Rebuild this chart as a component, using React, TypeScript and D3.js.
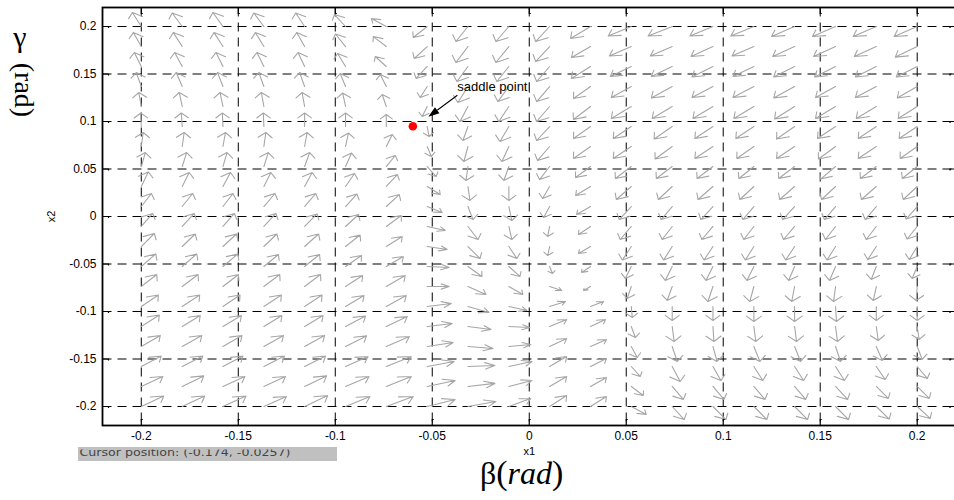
import React from 'react';
import * as d3 from 'd3';

// Axis ticks and labels
const X_TICKS = [-0.2, -0.15, -0.1, -0.05, 0, 0.05, 0.1, 0.15, 0.2];
const X_TICK_LABELS = ['-0.2', '-0.15', '-0.1', '-0.05', '0', '0.05', '0.1', '0.15', '0.2'];
const Y_TICKS = [-0.2, -0.15, -0.1, -0.05, 0, 0.05, 0.1, 0.15, 0.2];
const Y_TICK_LABELS = ['-0.2', '-0.15', '-0.1', '-0.05', '0', '0.05', '0.1', '0.15', '0.2'];

// Quiver sample grid: beta (x1) columns and gamma (x2) rows, top row first
const GRID_X1 = [-0.2, -0.1789, -0.1579, -0.1368, -0.1158, -0.0947, -0.0737, -0.0526, -0.0316, -0.0105,
  0.0105, 0.0316, 0.0526, 0.0737, 0.0947, 0.1158, 0.1368, 0.1579, 0.1789, 0.2];
const GRID_X2 = [0.2, 0.1789, 0.1579, 0.1368, 0.1158, 0.0947, 0.0737, 0.0526, 0.0316, 0.0105,
  -0.0105, -0.0316, -0.0526, -0.0737, -0.0947, -0.1158, -0.1368, -0.1579, -0.1789, -0.2];

// Scaled arrow components in mrad: U along x1, V along x2 (one row per GRID_X2 entry)
const U_MRAD = [
  [-4.6, -5.2, -5.2, -5.2, -4.6, -5.7, -7.7, -7.2, -6.2, -6.7, -7.2, -10.3, -11.9, -12.4, -11.9, -11.9, -11.9, -11.9, -11.9, -11.9],
  [-4.1, -4.6, -4.6, -4.4, -4.1, -5.2, -6.7, -6.7, -6.2, -6.7, -7.2, -9.8, -11.3, -11.3, -11.3, -11.3, -11.3, -11.3, -11.3, -11.3],
  [-3.6, -3.9, -3.6, -3.6, -3.4, -4.1, -5.7, -5.7, -5.7, -6.2, -6.7, -9.8, -10.8, -10.8, -10.8, -10.8, -10.8, -10.8, -10.8, -10.8],
  [-2.6, -3.1, -2.8, -2.6, -2.6, -2.8, -3.1, -3.6, -5.2, -5.7, -6.7, -8.8, -10.3, -10.8, -10.8, -10.8, -10.8, -10.3, -10.8, -10.3],
  [-1.3, -1.5, -1.5, -1.3, -1.3, -1.5, -2.1, -2.6, -4.1, -5.2, -6.7, -8.8, -10.3, -10.3, -10.3, -10.3, -10.3, -10.3, -10.3, -9.8],
  [-0.3, -0.5, -0.3, -0.3, 0, 0, 0, 1.0, -2.6, -4.6, -6.7, -8.8, -9.3, -9.3, -9.3, -9.3, -9.3, -9.3, -9.3, -9.3],
  [1.0, 1.0, 1.3, 1.0, 1.3, 1.5, 3.1, 2.1, -2.1, -3.6, -6.2, -8.8, -9.3, -8.8, -9.3, -8.8, -9.3, -8.8, -9.3, -8.8],
  [2.1, 2.3, 2.1, 2.3, 2.6, 3.1, 4.6, 4.6, -1.0, -2.6, -5.2, -7.7, -8.2, -8.2, -8.2, -7.7, -8.2, -7.7, -8.2, -7.7],
  [3.6, 3.6, 3.9, 3.6, 3.9, 4.6, 5.7, 6.7, 1.0, 0, -3.6, -7.7, -7.7, -7.2, -7.7, -7.2, -7.7, -7.2, -7.7, -7.2],
  [5.2, 5.4, 5.2, 5.7, 5.7, 5.9, 6.7, 7.7, 2.6, 1.5, -3.1, -7.2, -6.2, -5.7, -6.2, -5.7, -6.2, -5.7, -5.7, -5.7],
  [5.9, 6.2, 5.9, 6.2, 6.4, 6.7, 7.7, 9.3, 5.2, 1.5, -1.0, -6.2, -5.7, -5.2, -5.7, -5.2, -5.7, -5.2, -5.2, -5.2],
  [6.7, 6.7, 7.0, 6.7, 7.2, 7.5, 8.2, 10.3, 6.2, 4.1, -1.0, -6.2, -4.6, -4.4, -4.6, -4.4, -4.6, -4.4, -4.4, -4.1],
  [7.5, 7.5, 7.7, 7.5, 7.7, 8.2, 8.8, 11.3, 7.2, 5.7, 1.5, -4.6, -3.1, -3.6, -3.6, -3.6, -3.1, -3.1, -2.6, -2.6],
  [8.0, 8.2, 8.0, 8.2, 8.2, 8.8, 9.8, 11.3, 9.3, 7.2, 6.2, -3.6, -2.1, -2.6, -2.6, -2.1, -1.5, -1.0, -1.5, -0.5],
  [8.8, 9.0, 8.8, 9.0, 9.0, 9.5, 10.3, 12.4, 10.8, 9.3, 8.2, 6.7, 0.5, 0, 0, 0, 0, 0.5, 0, 0],
  [9.3, 9.3, 9.5, 9.3, 9.5, 10.3, 10.8, 12.9, 11.9, 10.8, 8.8, 7.7, 2.1, 1.0, 0.5, 1.0, 1.0, 1.0, 1.0, 1.0],
  [9.8, 10.1, 9.8, 10.1, 10.3, 10.8, 11.9, 13.4, 12.9, 11.3, 8.8, 8.2, 3.1, 2.6, 2.1, 3.1, 3.1, 2.6, 3.1, 2.6],
  [10.3, 10.6, 10.3, 10.6, 10.8, 11.6, 12.9, 13.9, 13.9, 11.9, 8.8, 8.2, 4.6, 4.1, 4.1, 4.6, 4.6, 4.6, 4.6, 5.2],
  [11.1, 11.1, 11.3, 11.1, 11.3, 12.1, 12.9, 14.4, 13.9, 11.9, 8.8, 8.2, 6.2, 5.7, 5.7, 5.7, 5.7, 6.2, 6.2, 6.2],
  [11.6, 11.6, 11.9, 11.6, 11.9, 12.6, 13.9, 14.4, 14.4, 11.3, 8.8, 8.2, 7.7, 6.2, 6.7, 6.7, 6.7, 6.7, 6.7, 6.7],
];
const V_MRAD = [
  [14.7, 14.2, 14.7, 14.2, 14.2, 12.6, 8.4, -11.6, -15.8, -15.8, -15.8, -12.6, -10.0, -10.0, -10.0, -10.0, -10.5, -10.5, -10.5, -10.5],
  [14.7, 14.7, 14.7, 14.7, 14.7, 13.2, 10.5, -12.6, -16.8, -16.8, -15.8, -11.6, -10.0, -10.0, -10.5, -10.0, -10.5, -10.5, -10.5, -11.1],
  [14.7, 14.7, 14.7, 14.7, 14.7, 13.7, 10.5, -12.6, -15.8, -15.8, -15.8, -12.6, -10.5, -10.5, -11.1, -10.5, -11.1, -11.1, -11.1, -11.1],
  [14.7, 14.7, 14.7, 14.7, 14.7, 13.7, 12.6, -11.6, -16.8, -15.8, -15.8, -12.6, -11.6, -12.1, -11.6, -11.6, -12.1, -11.6, -11.6, -12.1],
  [14.7, 14.7, 14.7, 14.7, 14.7, 14.2, 12.6, -10.5, -15.8, -15.8, -15.8, -13.7, -12.6, -12.6, -12.6, -12.6, -13.2, -12.6, -12.6, -12.6],
  [14.2, 14.2, 14.2, 14.2, 14.2, 14.2, 12.6, -10.5, -14.7, -15.8, -14.7, -12.6, -12.6, -13.2, -12.6, -12.6, -13.2, -12.6, -12.6, -12.6],
  [14.7, 14.7, 14.7, 14.7, 14.7, 14.2, 12.6, -10.5, -15.8, -15.8, -14.7, -12.6, -12.6, -13.2, -12.6, -12.6, -12.6, -13.2, -12.6, -12.6],
  [14.7, 14.7, 14.7, 14.7, 14.7, 14.2, 11.6, -10.5, -14.7, -14.7, -13.7, -11.6, -12.6, -12.6, -12.6, -12.6, -12.6, -13.2, -12.6, -12.6],
  [15.3, 14.7, 14.7, 14.7, 14.7, 13.7, 12.6, -8.4, -14.7, -14.7, -12.6, -9.5, -13.7, -13.7, -13.7, -13.7, -13.7, -13.7, -13.7, -13.7],
  [13.7, 13.7, 13.7, 13.7, 13.7, 13.2, 12.6, -6.3, -13.7, -14.7, -11.6, -8.4, -13.7, -13.7, -13.7, -13.7, -13.7, -13.7, -13.7, -13.2],
  [13.7, 13.7, 13.7, 13.7, 13.2, 12.6, 11.6, -4.2, -13.7, -13.7, -10.5, -8.4, -13.7, -13.7, -13.7, -13.7, -13.7, -13.7, -13.7, -13.2],
  [13.7, 13.2, 13.2, 13.2, 13.2, 12.1, 10.5, -3.2, -12.6, -12.6, -9.5, -7.4, -14.2, -14.2, -14.2, -14.2, -14.2, -14.2, -13.7, -13.7],
  [13.2, 13.2, 13.2, 12.6, 12.6, 11.6, 10.5, -1.1, -10.5, -10.5, -7.4, -6.3, -12.6, -14.7, -14.7, -14.7, -14.7, -14.7, -13.7, -12.6],
  [12.6, 12.6, 12.6, 12.6, 12.6, 11.6, 11.6, 0, -8.4, -8.4, -4.2, -4.2, -12.6, -14.7, -15.8, -15.8, -15.8, -15.8, -14.7, -14.7],
  [12.1, 12.1, 12.1, 12.1, 12.1, 11.6, 11.6, 3.2, -6.3, -4.2, 5.3, 5.3, -11.6, -14.7, -14.7, -15.8, -15.8, -15.8, -14.7, -14.7],
  [12.1, 11.6, 11.6, 11.6, 11.6, 11.1, 10.5, 3.2, -3.2, -1.1, 7.4, 7.4, -11.6, -15.8, -15.8, -15.8, -15.8, -15.8, -14.7, -13.7],
  [11.6, 11.6, 11.6, 11.6, 11.6, 11.1, 10.5, 4.2, -2.1, 2.1, 8.4, 7.4, -11.6, -15.8, -15.8, -15.8, -15.8, -15.8, -14.7, -13.7],
  [11.1, 11.1, 11.1, 11.1, 11.1, 10.5, 10.5, 5.3, 1.1, 5.3, 10.5, 8.4, -10.5, -15.8, -14.7, -14.7, -14.7, -14.7, -13.7, -12.6],
  [10.5, 11.1, 10.5, 10.5, 11.1, 10.5, 10.5, 6.3, 3.2, 6.3, 10.5, 9.5, -9.5, -13.7, -13.7, -13.7, -13.7, -13.7, -12.6, -12.6],
  [11.1, 11.1, 11.1, 10.5, 11.6, 10.5, 10.5, 7.4, 5.3, 8.4, 11.6, 10.5, -8.4, -13.7, -13.7, -13.7, -13.7, -13.7, -13.2, -12.6],
];

// Equilibrium marked on the plot
const SADDLE_X1 = -0.06;
const SADDLE_X2 = 0.095;
const SADDLE_LABEL = 'saddle point';
const CURSOR_TEXT = 'Cursor position: (-0.174, -0.0257)';

const W = 954;
const H = 500;
const AX = { left: 102.5, right: 956, top: 7.5, bottom: 425.5 };

const xScale = d3.scaleLinear().domain([-0.22, 0.22]).range([AX.left, AX.right]);
const yScale = d3.scaleLinear().domain([-0.22, 0.22]).range([AX.bottom, AX.top]);

// quiver-style arrowheads, built in data units
const HEAD_ALPHA = 0.36;
const HEAD_BETA = 0.68;

function quiverPath(x0: number, y0: number, u: number, v: number): string {
  const x1 = x0 + u;
  const y1 = y0 + v;
  const ax = x1 - HEAD_ALPHA * (u + HEAD_BETA * v);
  const ay = y1 - HEAD_ALPHA * (v - HEAD_BETA * u);
  const bx = x1 - HEAD_ALPHA * (u - HEAD_BETA * v);
  const by = y1 - HEAD_ALPHA * (v + HEAD_BETA * u);
  const p = d3.path();
  p.moveTo(xScale(x0), yScale(y0));
  p.lineTo(xScale(x1), yScale(y1));
  p.moveTo(xScale(ax), yScale(ay));
  p.lineTo(xScale(x1), yScale(y1));
  p.lineTo(xScale(bx), yScale(by));
  return p.toString();
}

const SANS = '"Liberation Sans", Arial, Helvetica, sans-serif';
const SERIF = '"Liberation Serif", "Times New Roman", serif';

export default function App() {
  const arrows: string[] = [];
  GRID_X2.forEach((gy, j) => {
    GRID_X1.forEach((gx, i) => {
      arrows.push(quiverPath(gx, gy, U_MRAD[j][i] / 1000, V_MRAD[j][i] / 1000));
    });
  });

  const sx = xScale(SADDLE_X1);
  const sy = yScale(SADDLE_X2);
  const annTail: [number, number] = [sx + 44.5, sy - 31];
  const annTip: [number, number] = [sx + 15.5, sy - 9.5];
  const ang = Math.atan2(annTip[1] - annTail[1], annTip[0] - annTail[0]);
  const headLen = 11;
  const headHalf = 3.8;
  const hb: [number, number] = [annTip[0] - headLen * Math.cos(ang), annTip[1] - headLen * Math.sin(ang)];
  const headPts = [
    annTip,
    [hb[0] + headHalf * Math.sin(ang), hb[1] - headHalf * Math.cos(ang)],
    [hb[0] - headHalf * Math.sin(ang), hb[1] + headHalf * Math.cos(ang)],
  ].map((p) => p.join(',')).join(' ');

  const tickLen = 6;

  return (
    <svg
      width={W}
      height={H}
      viewBox={`0 0 ${W} ${H}`}
      style={{ position: 'absolute', left: 0, top: 0, background: '#fff' }}
    >
      <defs>
        <clipPath id="cursor-clip">
          <rect x={78} y={449.6} width={259} height={11.4} />
        </clipPath>
      </defs>
      <rect x={0} y={0} width={W} height={H} fill="#fff" />

      {/* dashed grid */}
      <g stroke="#000" strokeWidth={1} strokeDasharray="9,6" fill="none">
        {X_TICKS.map((t) => (
          <line key={`gx${t}`} x1={xScale(t)} x2={xScale(t)} y1={AX.top} y2={AX.bottom} />
        ))}
        {Y_TICKS.map((t) => (
          <line key={`gy${t}`} x1={AX.left} x2={AX.right} y1={yScale(t)} y2={yScale(t)} />
        ))}
      </g>

      {/* vector field */}
      <g stroke="#a6a6a6" strokeWidth={1.1} fill="none" strokeLinecap="round" strokeLinejoin="round">
        {arrows.map((d, k) => (
          <path key={k} d={d} />
        ))}
      </g>

      {/* axes box and ticks */}
      <g stroke="#000" fill="none">
        <rect
          x={AX.left}
          y={AX.top}
          width={AX.right - AX.left}
          height={AX.bottom - AX.top}
          strokeWidth={1.8}
        />
        {X_TICKS.map((t) => (
          <g key={`tx${t}`} strokeWidth={1.2}>
            <path d={`M${xScale(t)},${AX.bottom}V${AX.bottom - tickLen}h1.5`} />
            <path d={`M${xScale(t)},${AX.top}V${AX.top + tickLen}h1.5`} />
          </g>
        ))}
        {Y_TICKS.map((t) => (
          <g key={`ty${t}`} strokeWidth={1.2}>
            <path d={`M${AX.left},${yScale(t)}H${AX.left + tickLen}v1.5`} />
            <path d={`M${AX.right},${yScale(t)}H${AX.right - tickLen}v1.5`} />
          </g>
        ))}
      </g>

      {/* tick labels */}
      <g fontFamily={SANS} fontSize={12} fill="#000">
        {X_TICKS.map((t, k) => (
          <text key={`lx${t}`} x={xScale(t)} y={AX.bottom + 14} textAnchor="middle">
            {X_TICK_LABELS[k]}
          </text>
        ))}
        {Y_TICKS.map((t, k) => (
          <text key={`ly${t}`} x={AX.left - 6} y={yScale(t) + 3.5} textAnchor="end">
            {Y_TICK_LABELS[k]}
          </text>
        ))}
      </g>

      {/* axis names */}
      <text x={xScale(0)} y={455} textAnchor="middle" fontFamily={SANS} fontSize={11}>
        x1
      </text>
      <text
        transform={`translate(55,${yScale(0)}) rotate(-90)`}
        textAnchor="middle"
        fontFamily={SANS}
        fontSize={11}
      >
        x2
      </text>

      {/* saddle point marker and annotation */}
      <circle cx={sx} cy={sy} r={4.3} fill="#ff0000" />
      <line x1={annTail[0]} y1={annTail[1]} x2={hb[0]} y2={hb[1]} stroke="#000" strokeWidth={1.1} />
      <polygon points={headPts} fill="#000" />
      <text x={annTail[0]} y={sy - 34.8} fontFamily={SANS} fontSize={13} fill="#000">
        {SADDLE_LABEL}
      </text>
      <line x1={sx + 116.5} x2={sx + 116.5} y1={sy - 44} y2={sy - 33.5} stroke="#333" strokeWidth={1} />

      {/* status strip */}
      <rect x={78} y={447} width={259} height={14} fill="#c0c0c0" />
      <text
        x={79.5}
        y={455.5}
        fontFamily='"DejaVu Sans", sans-serif'
        fontSize={11}
        fill="#444"
        textLength={211}
        lengthAdjust="spacingAndGlyphs"
        clipPath="url(#cursor-clip)"
      >
        {CURSOR_TEXT}
      </text>

      {/* physical axis titles */}
      <text x={480} y={484} fontFamily={SERIF} fontSize={32} fill="#000">
        β<tspan fontSize={34}>(</tspan>
        <tspan fontStyle="italic">rad</tspan>
        <tspan fontSize={34}>)</tspan>
      </text>
      <text x={20} y={46.5} textAnchor="middle" fontFamily={SERIF} fontSize={30} fill="#000">
        γ
      </text>
      <text
        transform="translate(15,90) rotate(90)"
        textAnchor="middle"
        fontFamily={SERIF}
        fontSize={28}
        fill="#000"
      >
        (rad)
      </text>
    </svg>
  );
}
